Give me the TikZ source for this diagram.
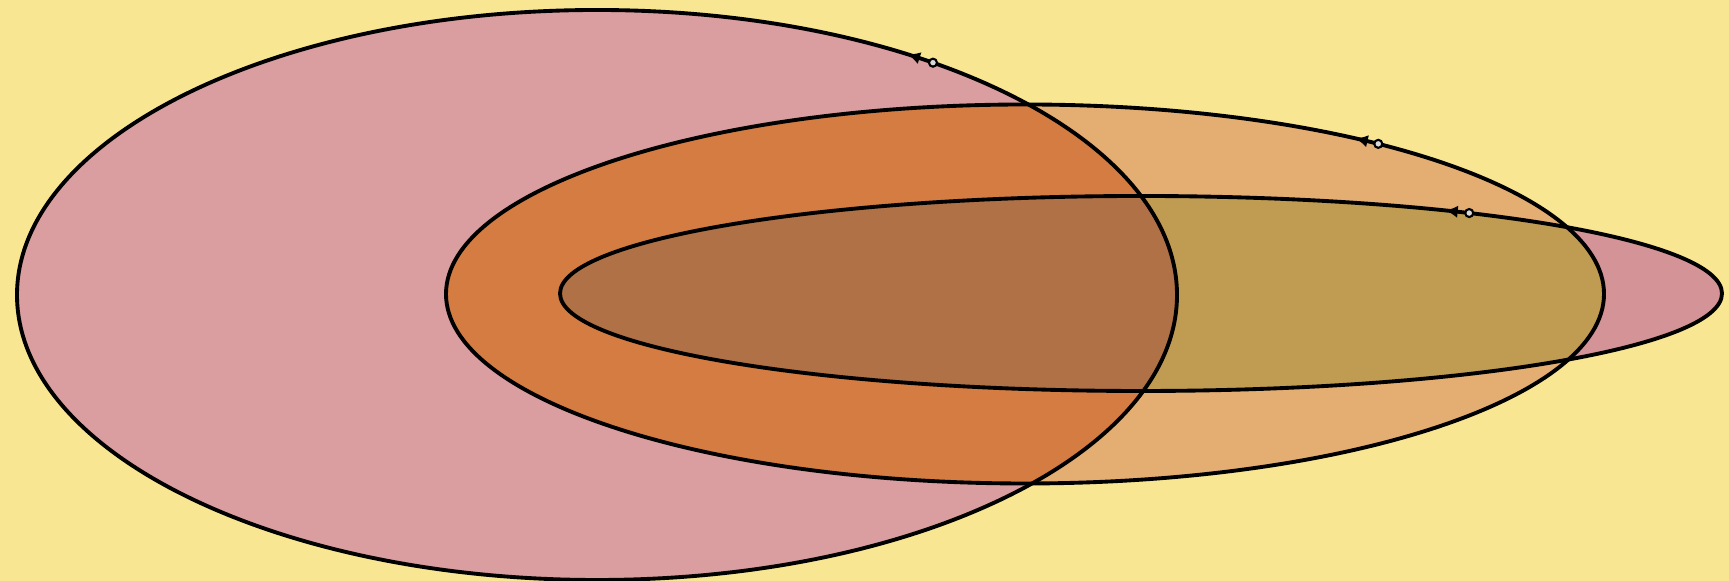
\documentclass[tikz,border=0pt]{standalone}
\usetikzlibrary{arrows.meta}
\definecolor{bgyellow}{HTML}{F8E693}
\definecolor{bigpink}{HTML}{DA9DA0}
\definecolor{midorange}{HTML}{E4AE73}
\definecolor{midbig}{HTML}{D47C42}
\definecolor{innpink}{HTML}{D49396}
\definecolor{innmid}{HTML}{C09B52}
\definecolor{innall}{HTML}{B07146}
\begin{document}
\begin{tikzpicture}[line width=1.1pt,
    rim/.style={draw=black, line width=1.1pt},
    tick/.style={-{Latex[length=3.5pt,width=3.5pt]}, line width=0.5pt},
    ring/.style={draw=black, fill=white!70!gray, line width=0.6pt}]
    \useasboundingbox (0,0) rectangle (17.29,5.81);
    \fill[bgyellow] (0,0) rectangle (17.29,5.81);
    \coordinate (big) at (5.97,2.86);
    \coordinate (mid) at (10.25,2.87);
    \coordinate (inn) at (11.41,2.875);
    % fills
    \fill[bigpink] (big) ellipse [x radius=5.80, y radius=2.85];
    \fill[midorange] (mid) ellipse [x radius=5.79, y radius=1.895];
    \begin{scope}
        \clip (big) ellipse [x radius=5.80, y radius=2.85];
        \fill[midbig] (mid) ellipse [x radius=5.79, y radius=1.895];
    \end{scope}
    \fill[innpink] (inn) ellipse [x radius=5.81, y radius=0.975];
    \begin{scope}
        \clip (mid) ellipse [x radius=5.79, y radius=1.895];
        \fill[innmid] (inn) ellipse [x radius=5.81, y radius=0.975];
        \clip (big) ellipse [x radius=5.80, y radius=2.85];
        \fill[innall] (inn) ellipse [x radius=5.81, y radius=0.975];
    \end{scope}
    % outlines
    \draw[rim] (big) ellipse [x radius=5.80, y radius=2.85];
    \draw[rim] (mid) ellipse [x radius=5.79, y radius=1.895];
    \draw[rim] (inn) ellipse [x radius=5.81, y radius=0.975];
    % marks
    \draw[tick, shift={(big)}] (56.5:5.80 and 2.85) -- (57.6:5.80 and 2.85);
    \draw[ring, shift={(big)}] (54.6:5.80 and 2.85) circle (0.04);
    \draw[tick, shift={(mid)}] (54.1:5.79 and 1.895) -- (55.2:5.79 and 1.895);
    \draw[ring, shift={(mid)}] (52.4:5.79 and 1.895) circle (0.04);
    \draw[tick, shift={(inn)}] (57.3:5.81 and 0.975) -- (58.4:5.81 and 0.975);
    \draw[ring, shift={(inn)}] (55.6:5.81 and 0.975) circle (0.04);
\end{tikzpicture}
\end{document}
